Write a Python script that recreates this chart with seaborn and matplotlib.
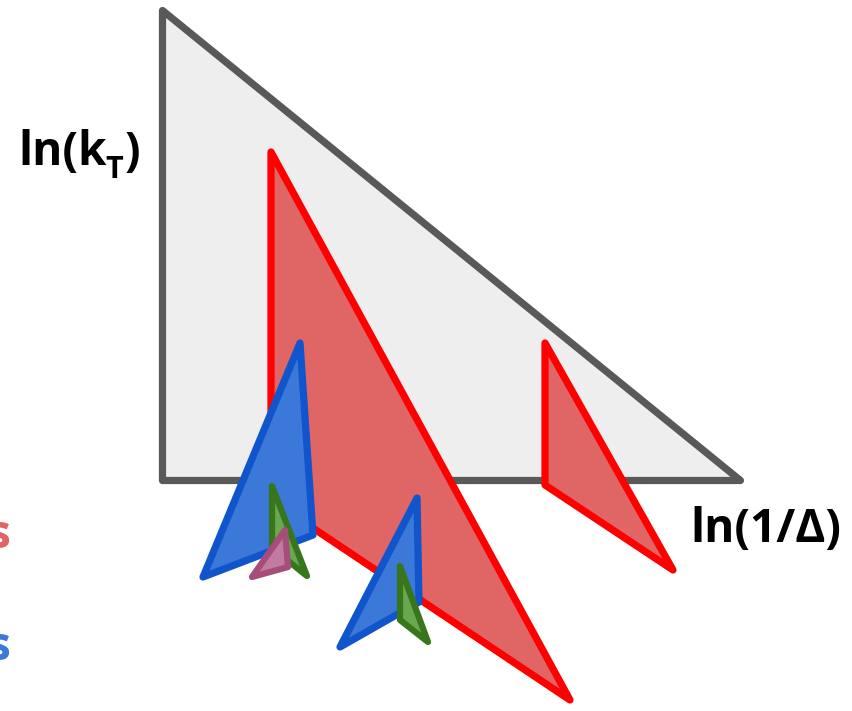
import matplotlib
matplotlib.use("Agg")
import matplotlib.pyplot as plt
import seaborn as sns
from matplotlib.patches import Polygon

sns.set_theme(style="white")
plt.rcParams['font.family'] = ['Open Sans', 'DejaVu Sans']

# Lund-plane triangles (x, y in picture units, y downward)
names = ["primary", "red_main", "red_small", "blue_main", "green_a", "pink", "blue_b", "green_b"]
xs = {
    "primary":   [162, 162, 740],
    "red_main":  [271, 271, 570],
    "red_small": [545, 545, 673],
    "blue_main": [300, 203, 313],
    "green_a":   [272, 272, 307],
    "pink":      [285, 252, 288],
    "blue_b":    [417, 340, 419],
    "green_b":   [400, 400, 428],
}
ys = {
    "primary":   [10, 480, 480],
    "red_main":  [152, 500, 700],
    "red_small": [343, 485, 570],
    "blue_main": [343, 577, 535],
    "green_a":   [486, 548, 576],
    "pink":      [530, 577, 567],
    "blue_b":    [498, 647, 602],
    "green_b":   [566, 620, 642],
}
fills = {"primary": "#eeeeee", "red_main": "#e06666", "red_small": "#e06666",
         "blue_main": "#3c78d8", "green_a": "#6aa84f", "pink": "#c27ba0",
         "blue_b": "#3c78d8", "green_b": "#6aa84f"}
edges = {"primary": "#595959", "red_main": "#ff0000", "red_small": "#ff0000",
         "blue_main": "#1155cc", "green_a": "#38761d", "pink": "#a64d79",
         "blue_b": "#1155cc", "green_b": "#38761d"}
widths = {"primary": 5.2, "red_main": 5.2, "red_small": 5.2, "blue_main": 5.2,
          "green_a": 4.5, "pink": 4.5, "blue_b": 5.2, "green_b": 4.5}

fig = plt.figure(figsize=(8.53, 7.11), dpi=100)
ax = fig.add_axes([0, 0, 1, 1])
ax.set_xlim(0, 853)
ax.set_ylim(711, 0)
ax.axis("off")

for n in names:
    poly = Polygon(list(zip(xs[n], ys[n])), closed=True, facecolor=fills[n],
                   edgecolor=edges[n], linewidth=widths[n], joinstyle="round")
    ax.add_patch(poly)

# ln(k_T) built from pieces, bold
fig.canvas.draw()
renderer = fig.canvas.get_renderer()
inv = ax.transData.inverted()

def place(x, y, s, size, va="baseline"):
    t = ax.text(x, y, s, ha="left", va=va, fontsize=size, fontweight="bold", color="black")
    bb = t.get_window_extent(renderer=renderer)
    x1 = inv.transform((bb.x1, bb.y0))[0]
    return x1

x = place(18, 165, "ln(k", 33)
x = place(x - 1, 178, "T", 22)
place(x + 1, 165, ")", 33)

ax.text(690, 530, "ln(1/Δ)", ha="left", va="center", fontsize=33,
        fontweight="bold", color="black")
ax.text(11, 535, "emissions", ha="right", va="center", fontsize=33,
        fontweight="bold", color="#e06666")
ax.text(11, 648, "emissions", ha="right", va="center", fontsize=33,
        fontweight="bold", color="#3c78d8")

fig.savefig("out.png", dpi=100)
